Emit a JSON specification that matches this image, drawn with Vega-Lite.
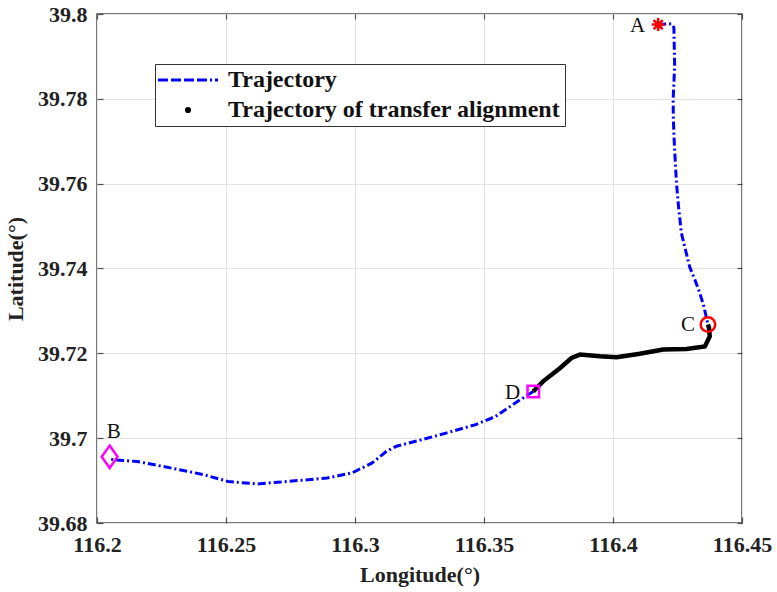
{
  "$schema": "https://vega.github.io/schema/vega-lite/v6.json",
  "width": 645,
  "height": 509,
  "autosize": {"type": "none"},
  "padding": {"left": 97, "top": 14, "right": 35, "bottom": 69},
  "background": "white",
  "datasets": {
    "path": [
      {"seg": "AC", "series": "Trajectory", "order": 1, "lon": 116.4175, "lat": 39.7975},
      {"seg": "AC", "series": "Trajectory", "order": 2, "lon": 116.4227, "lat": 39.7977},
      {"seg": "AC", "series": "Trajectory", "order": 3, "lon": 116.4236, "lat": 39.7968},
      {"seg": "AC", "series": "Trajectory", "order": 4, "lon": 116.4239, "lat": 39.7876},
      {"seg": "AC", "series": "Trajectory", "order": 5, "lon": 116.4236, "lat": 39.7837},
      {"seg": "AC", "series": "Trajectory", "order": 6, "lon": 116.4233, "lat": 39.7798},
      {"seg": "AC", "series": "Trajectory", "order": 7, "lon": 116.4234, "lat": 39.7751},
      {"seg": "AC", "series": "Trajectory", "order": 8, "lon": 116.4237, "lat": 39.7704},
      {"seg": "AC", "series": "Trajectory", "order": 9, "lon": 116.4241, "lat": 39.7656},
      {"seg": "AC", "series": "Trajectory", "order": 10, "lon": 116.4246, "lat": 39.7602},
      {"seg": "AC", "series": "Trajectory", "order": 11, "lon": 116.4254, "lat": 39.7546},
      {"seg": "AC", "series": "Trajectory", "order": 12, "lon": 116.4265, "lat": 39.7484},
      {"seg": "AC", "series": "Trajectory", "order": 13, "lon": 116.4281, "lat": 39.7444},
      {"seg": "AC", "series": "Trajectory", "order": 14, "lon": 116.4297, "lat": 39.7404},
      {"seg": "AC", "series": "Trajectory", "order": 15, "lon": 116.4317, "lat": 39.7374},
      {"seg": "AC", "series": "Trajectory", "order": 16, "lon": 116.4336, "lat": 39.7343},
      {"seg": "AC", "series": "Trajectory", "order": 17, "lon": 116.4352, "lat": 39.7311},
      {"seg": "AC", "series": "Trajectory", "order": 18, "lon": 116.4368, "lat": 39.7268},
      {"seg": "DB", "series": "Trajectory", "order": 1, "lon": 116.3691, "lat": 39.7110},
      {"seg": "DB", "series": "Trajectory", "order": 2, "lon": 116.3621, "lat": 39.7083},
      {"seg": "DB", "series": "Trajectory", "order": 3, "lon": 116.3544, "lat": 39.7051},
      {"seg": "DB", "series": "Trajectory", "order": 4, "lon": 116.3468, "lat": 39.7032},
      {"seg": "DB", "series": "Trajectory", "order": 5, "lon": 116.3353, "lat": 39.7012},
      {"seg": "DB", "series": "Trajectory", "order": 6, "lon": 116.3257, "lat": 39.6996},
      {"seg": "DB", "series": "Trajectory", "order": 7, "lon": 116.3161, "lat": 39.6981},
      {"seg": "DB", "series": "Trajectory", "order": 8, "lon": 116.3122, "lat": 39.6969},
      {"seg": "DB", "series": "Trajectory", "order": 9, "lon": 116.3065, "lat": 39.6941},
      {"seg": "DB", "series": "Trajectory", "order": 10, "lon": 116.2988, "lat": 39.6918},
      {"seg": "DB", "series": "Trajectory", "order": 11, "lon": 116.2892, "lat": 39.6906},
      {"seg": "DB", "series": "Trajectory", "order": 12, "lon": 116.2777, "lat": 39.6900},
      {"seg": "DB", "series": "Trajectory", "order": 13, "lon": 116.2620, "lat": 39.6892},
      {"seg": "DB", "series": "Trajectory", "order": 14, "lon": 116.2508, "lat": 39.6898},
      {"seg": "DB", "series": "Trajectory", "order": 15, "lon": 116.2413, "lat": 39.6914},
      {"seg": "DB", "series": "Trajectory", "order": 16, "lon": 116.2284, "lat": 39.6930},
      {"seg": "DB", "series": "Trajectory", "order": 17, "lon": 116.2155, "lat": 39.6945},
      {"seg": "DB", "series": "Trajectory", "order": 18, "lon": 116.2067, "lat": 39.6949},
      {"seg": "DB", "series": "Trajectory", "order": 19, "lon": 116.2052, "lat": 39.6951},
      {"seg": "CD", "series": "Trajectory of transfer alignment", "order": 1, "lon": 116.4368, "lat": 39.7268},
      {"seg": "CD", "series": "Trajectory of transfer alignment", "order": 2, "lon": 116.4372, "lat": 39.7260},
      {"seg": "CD", "series": "Trajectory of transfer alignment", "order": 3, "lon": 116.4375, "lat": 39.7240},
      {"seg": "CD", "series": "Trajectory of transfer alignment", "order": 4, "lon": 116.4356, "lat": 39.7216},
      {"seg": "CD", "series": "Trajectory of transfer alignment", "order": 5, "lon": 116.4285, "lat": 39.7210},
      {"seg": "CD", "series": "Trajectory of transfer alignment", "order": 6, "lon": 116.4194, "lat": 39.7209},
      {"seg": "CD", "series": "Trajectory of transfer alignment", "order": 7, "lon": 116.4104, "lat": 39.7199},
      {"seg": "CD", "series": "Trajectory of transfer alignment", "order": 8, "lon": 116.4014, "lat": 39.7191},
      {"seg": "CD", "series": "Trajectory of transfer alignment", "order": 9, "lon": 116.3949, "lat": 39.7193},
      {"seg": "CD", "series": "Trajectory of transfer alignment", "order": 10, "lon": 116.3872, "lat": 39.7197},
      {"seg": "CD", "series": "Trajectory of transfer alignment", "order": 11, "lon": 116.3839, "lat": 39.7189},
      {"seg": "CD", "series": "Trajectory of transfer alignment", "order": 12, "lon": 116.3794, "lat": 39.7165},
      {"seg": "CD", "series": "Trajectory of transfer alignment", "order": 13, "lon": 116.3729, "lat": 39.7134},
      {"seg": "CD", "series": "Trajectory of transfer alignment", "order": 14, "lon": 116.3691, "lat": 39.7110}
    ],
    "markers": [
      {"label": "A", "lon": 116.4175, "lat": 39.7975},
      {"label": "B", "lon": 116.2049, "lat": 39.6956},
      {"label": "C", "lon": 116.4368, "lat": 39.7268},
      {"label": "D", "lon": 116.3691, "lat": 39.7110}
    ]
  },
  "encoding": {
    "x": {
      "field": "lon", "type": "quantitative",
      "scale": {"domain": [116.2, 116.45], "nice": false, "zero": false},
      "axis": null
    },
    "y": {
      "field": "lat", "type": "quantitative",
      "scale": {"domain": [39.68, 39.8], "nice": false, "zero": false},
      "axis": null
    }
  },
  "resolve": {"axis": {"x": "independent", "y": "independent"}},
  "layer": [
    {
      "data": {"name": "path"},
      "transform": [{"filter": "datum.series === 'Trajectory'"}],
      "mark": {"type": "line", "strokeWidth": 3, "strokeDash": [8, 3, 2, 3]},
      "encoding": {
        "x": {
          "field": "lon", "type": "quantitative",
          "scale": {"domain": [116.2, 116.45], "nice": false, "zero": false},
          "axis": {"title": "Longitude(°)", "values": [116.2, 116.25, 116.3, 116.35, 116.4, 116.45], "format": ".6~g", "labelPadding": 17, "titlePadding": 9, "labelFlush": false, "labelOverlap": false}
        },
        "y": {
          "field": "lat", "type": "quantitative",
          "scale": {"domain": [39.68, 39.8], "nice": false, "zero": false},
          "axis": {"title": "Latitude(°)", "values": [39.68, 39.7, 39.72, 39.74, 39.76, 39.78, 39.8], "format": ".6~g", "labelPadding": 16, "titlePadding": 10, "labelFlush": false, "labelOverlap": false}
        },
        "order": {"field": "order", "type": "quantitative"},
        "detail": {"field": "seg"},
        "color": {
          "field": "series", "type": "nominal",
          "scale": {"domain": ["Trajectory", "Trajectory of transfer alignment"], "range": ["#0000ff", "#000000"]},
          "legend": {
            "title": null, "orient": "none", "legendX": 58, "legendY": 50,
            "labelFont": "Liberation Serif", "labelFontWeight": "bold", "labelFontSize": 24, "labelColor": "#111", "labelLimit": 0,
            "symbolSize": 225, "rowPadding": 6, "labelOffset": 28, "symbolOffset": 17, "padding": 4,
            "strokeColor": "#333", "fillColor": "white",
            "encode": {
              "symbols": {
                "update": {
                  "shape": {"signal": "datum.value === 'Trajectory' ? 'M-4,0L4,0' : 'circle'"},
                  "size": {"signal": "datum.value === 'Trajectory' ? 225 : 10"},
                  "stroke": {"signal": "datum.value === 'Trajectory' ? '#0000ff' : 'transparent'"},
                  "fill": {"signal": "datum.value === 'Trajectory' ? 'transparent' : '#000000'"},
                  "strokeDash": {"value": [10, 3, 10, 3, 10, 3, 10, 3, 2, 3]},
                  "strokeWidth": {"value": 3},
                  "opacity": {"value": 1}
                }
              }
            }
          }
        }
      }
    },
    {
      "data": {"name": "path"},
      "transform": [{"filter": "datum.series !== 'Trajectory'"}],
      "mark": {"type": "line", "strokeWidth": 4.5},
      "encoding": {
        "order": {"field": "order", "type": "quantitative"},
        "detail": {"field": "seg"},
        "color": {"field": "series", "type": "nominal"}
      }
    },
    {
      "data": {"name": "markers"},
      "mark": {"type": "point", "filled": false, "strokeWidth": 2.5, "opacity": 1},
      "encoding": {
        "x": {
          "field": "lon", "type": "quantitative",
          "scale": {"domain": [116.2, 116.45], "nice": false, "zero": false},
          "axis": {"orient": "top", "title": null, "labels": false, "grid": false, "values": [116.2, 116.25, 116.3, 116.35, 116.4, 116.45], "tickSize": -5}
        },
        "y": {
          "field": "lat", "type": "quantitative",
          "scale": {"domain": [39.68, 39.8], "nice": false, "zero": false},
          "axis": {"orient": "right", "title": null, "labels": false, "grid": false, "values": [39.68, 39.7, 39.72, 39.74, 39.76, 39.78, 39.8], "tickSize": -5}
        },
        "shape": {
          "field": "label", "type": "nominal", "legend": null,
          "scale": {"domain": ["A", "B", "C", "D"], "range": ["M-1,0L1,0M0,-1L0,1M-0.7,-0.7L0.7,0.7M-0.7,0.7L0.7,-0.7", "M0,-1L0.7,0L0,1L-0.7,0Z", "circle", "square"]}
        },
        "stroke": {
          "field": "label", "type": "nominal", "legend": null,
          "scale": {"domain": ["A", "B", "C", "D"], "range": ["#ff0000", "#ff00ff", "#ff0000", "#ff00ff"]}
        },
        "size": {
          "field": "label", "type": "nominal", "legend": null,
          "scale": {"type": "ordinal", "domain": ["A", "B", "C", "D"], "range": [170, 506, 210, 132]}
        }
      }
    },
    {
      "data": {"name": "markers"},
      "transform": [{"filter": "datum.label !== 'B'"}],
      "mark": {"type": "text", "align": "right", "baseline": "middle", "dx": -13, "dy": 1, "font": "Liberation Serif", "fontSize": 21, "color": "#111"},
      "encoding": {"text": {"field": "label"}}
    },
    {
      "data": {"name": "markers"},
      "transform": [{"filter": "datum.label === 'B'"}],
      "mark": {"type": "text", "align": "center", "baseline": "middle", "dx": 4, "dy": -25, "font": "Liberation Serif", "fontSize": 21, "color": "#111"},
      "encoding": {"text": {"field": "label"}}
    }
  ],
  "config": {
    "view": {"stroke": "#4d4d4d", "strokeWidth": 1.5},
    "axis": {
      "labelFont": "Liberation Serif", "labelFontWeight": "bold", "labelFontSize": 22, "labelColor": "#222",
      "titleFont": "Liberation Serif", "titleFontWeight": "bold", "titleFontSize": 22, "titleColor": "#222",
      "gridColor": "#e3e3e3", "gridWidth": 1, "domain": false,
      "tickColor": "#4d4d4d", "tickSize": -6, "tickWidth": 1.2
    }
  }
}
